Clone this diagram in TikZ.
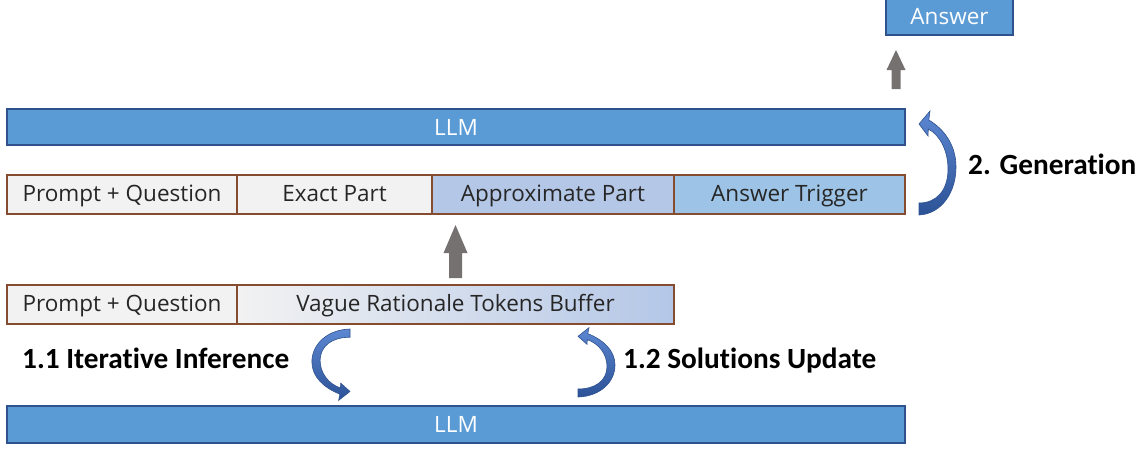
\documentclass[tikz,border=0pt]{standalone}
\usepackage{fontspec}
\usetikzlibrary{calc}
\newfontfamily\boxfont{Open Sans}
\newfontfamily\labfont[Ligatures=NoCommon]{Carlito}
\definecolor{llmblue}{HTML}{5B9BD5}
\definecolor{llmedge}{HTML}{2F528F}
\definecolor{cellgray}{HTML}{F2F2F2}
\definecolor{approxblue}{HTML}{B4C7E7}
\definecolor{trigblue}{HTML}{9DC3E6}
\definecolor{celledge}{RGB}{133,76,48}
\definecolor{arrowgray}{HTML}{767171}
\definecolor{carrowlight}{RGB}{92,135,210}
\definecolor{carrowdark}{RGB}{44,82,150}
\definecolor{txt}{HTML}{262626}
\newcommand{\curvedarrowshape}[1]{%
  \begin{scope}[#1]
    \shade[carrow] (0,0) .. controls (22,1) and (37,22) .. (37,48)
      .. controls (37,70) and (25,86) .. (9.8,95)
      -- (11,104) -- (0,91) -- (9,79) -- (9.3,86)
      .. controls (21,80) and (29,64) .. (29,46)
      .. controls (29,24) and (17,12) .. (0,12) -- cycle;
  \end{scope}}
\tikzset{
  llmbar/.style={draw=llmedge, line width=1.2pt, fill=llmblue, text=white,
    inner sep=0pt, outer sep=0pt, anchor=north west,
    font=\boxfont\fontsize{22.5}{26}\selectfont},
  cell/.style={draw=celledge, line width=1.1pt, inner sep=0pt, outer sep=0pt,
    anchor=north west, minimum height=39pt, text=txt,
    text height=16.4pt, text depth=3pt,
    font=\boxfont\fontsize{22.5}{26}\selectfont},
  blockarrow/.style={fill=arrowgray, draw=none},
  carrow/.style={top color=carrowlight, bottom color=carrowdark,
    draw=llmedge, line width=0.6pt},
  steplabel/.style={font=\labfont\bfseries\fontsize{29.3}{32}\selectfont,
    text=black, inner sep=0pt, anchor=base west}
}
\begin{document}
\begin{tikzpicture}[x=1pt,y=-1pt]
\useasboundingbox (0,0) rectangle (1145,448);
% answer box
\node[llmbar, minimum width=127pt, minimum height=37pt] (answer) at (886,-2) {Answer};
% top LLM
\node[llmbar, minimum width=898pt, minimum height=36pt] (llmtop) at (7,109) {LLM};
% row 2
\node[cell, fill=cellgray, minimum width=230pt] (pq2) at (7,175) {Prompt + Question};
\node[cell, fill=cellgray, minimum width=195pt] (exact) at (pq2.north east) {Exact Part};
\node[cell, fill=approxblue, minimum width=242pt] (approx) at (exact.north east) {Approximate Part};
\node[cell, fill=trigblue, minimum width=231pt] (trigger) at (approx.north east) {Answer Trigger};
% row 3
\node[cell, fill=cellgray, minimum width=230pt] (pq3) at (7,285) {Prompt + Question};
\node[cell, left color=cellgray, right color=approxblue, minimum width=437pt] (vague) at (pq3.north east) {Vague Rationale Tokens Buffer};
% bottom LLM
\node[llmbar, minimum width=898pt, minimum height=37pt] (llmbot) at (7,406) {LLM};
% gray block arrows
\coordinate (mb) at ($(vague.north)+(0,-7)$);
\coordinate (mt) at ($(approx.south)+(0,11)$);
\fill[blockarrow] ($(mb)+(-6.5,0)$) -- ($(mb)+(-6.5,-25)$) -- ($(mb)+(-12,-25)$) -- ($(mt)+(-97.5,0)$)
  -- ($(mb)+(12,-25)$) -- ($(mb)+(6.5,-25)$) -- ($(mb)+(6.5,0)$) -- cycle;
\coordinate (ab) at (896,89);
\coordinate (at) at (896,50);
\fill[blockarrow] ($(ab)+(-4.5,0)$) -- ($(ab)+(-4.5,-19)$) -- ($(ab)+(-9.5,-19)$) -- (at)
  -- ($(ab)+(9.5,-19)$) -- ($(ab)+(4.5,-19)$) -- ($(ab)+(4.5,0)$) -- cycle;
% curved arrows
\curvedarrowshape{shift={(919,215)}, yscale=-1}
\curvedarrowshape{shift={(578,397)}, xscale=1.0, yscale=-0.667}
\curvedarrowshape{shift={(350,329)}, xscale=-1.03, yscale=0.686}
% labels
\node[steplabel] (gen) at (968,174) {2. Generation};
\node[steplabel] (iter) at (22,368) {1.1 Iterative Inference};
\node[steplabel] (upd) at (623,368) {1.2 Solutions Update};
\end{tikzpicture}
\end{document}
